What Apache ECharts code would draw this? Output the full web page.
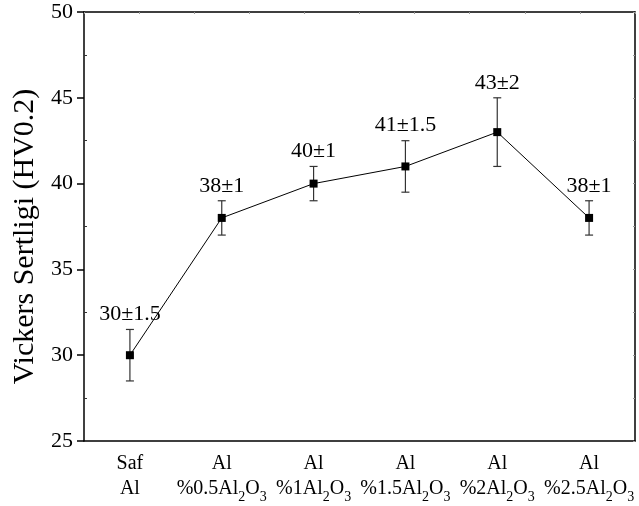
<!DOCTYPE html>
<html>
<head>
<meta charset="utf-8">
<script src="https://cdn.jsdelivr.net/npm/echarts@6/dist/echarts.min.js"></script>
<style>html,body{margin:0;padding:0;background:#fff}#c{width:639px;height:506px}</style>
</head>
<body>
<div id="c"></div>
<script>
var labelLine1 = ['Saf', 'Al', 'Al', 'Al', 'Al', 'Al'];
var labelPct = [null, '0.5', '1', '1.5', '2', '2.5'];
var hardness = [30, 38, 40, 41, 43, 38];
var errors = [1.5, 1, 1, 1.5, 2, 1];
var yMinorTicks = [27.5, 32.5, 37.5, 42.5, 47.5];

var FONT = '"Liberation Serif", "Times New Roman", serif';
var categories = labelLine1.map(function (l, i) { return String(i); });

function catFormatter(v, i) {
  var idx = Number(v);
  if (labelPct[idx] === null) return '{t|' + labelLine1[idx] + '}\n{t|Al}';
  return '{t|' + labelLine1[idx] + '}\n{t|%' + labelPct[idx] + 'Al}{s|2}{t|O}{s|3}';
}

var chart = echarts.init(document.getElementById('c'), null, {renderer: 'canvas'});
var grid = {left: 84, right: 4, top: 12, bottom: 65, containLabel: false};

chart.setOption({
  animation: false,
  backgroundColor: '#fff',
  grid: grid,
  xAxis: [
    {
      type: 'category', data: categories, position: 'bottom', boundaryGap: true,
      axisLine: {lineStyle: {color: '#000', width: 1.5}},
      axisTick: {alignWithLabel: true, inside: false, length: 6, lineStyle: {color: '#000', width: 1.5}},
      axisLabel: {
        formatter: catFormatter, margin: 13, interval: 0,
        rich: {
          t: {fontFamily: FONT, fontSize: 20, color: '#000', lineHeight: 25, verticalAlign: 'top'},
          s: {fontFamily: FONT, fontSize: 14, color: '#000', lineHeight: 14, padding: [17, 0, 0, 0], verticalAlign: 'bottom'}
        }
      },
      splitLine: {show: false}
    },
    {
      type: 'category', data: categories, position: 'bottom', boundaryGap: true,
      axisLine: {show: false},
      axisTick: {inside: true, length: 3, lineStyle: {color: '#555', width: 1}},
      axisLabel: {show: false}, splitLine: {show: false}
    },
    {
      type: 'value', min: 0, max: 10, interval: 1, position: 'top',
      axisLine: {show: true, onZero: false, lineStyle: {color: '#000', width: 1.5}},
      axisTick: {show: true, inside: true, length: 2, lineStyle: {color: '#999', width: 1}},
      axisLabel: {show: false}, splitLine: {show: false}
    }
  ],
  yAxis: [
    {
      type: 'value', min: 25, max: 50, interval: 5, position: 'left',
      name: 'Vickers Sertligi (HV0.2)', nameLocation: 'middle', nameGap: 41,
      nameTextStyle: {fontFamily: FONT, fontSize: 30, color: '#000', padding: [0, 20, 0, 0]},
      axisLine: {show: true, lineStyle: {color: '#000', width: 1.5}},
      axisTick: {show: true, inside: false, length: 7, lineStyle: {color: '#000', width: 1.5}},
      axisLabel: {fontFamily: FONT, fontSize: 22, color: '#000', margin: 11},
      splitLine: {show: false}
    },
    {
      type: 'value', min: 25, max: 50, interval: 2.5, position: 'right',
      axisLine: {show: true, onZero: false, lineStyle: {color: '#000', width: 1.5}},
      axisTick: {show: true, inside: true, length: 2, lineStyle: {color: '#999', width: 1}},
      axisLabel: {show: false}, splitLine: {show: false}
    },
    {
      type: 'value', min: 25, max: 50, interval: 2.5, position: 'left',
      axisLine: {show: false},
      axisTick: {show: true, inside: true, length: 3, customValues: yMinorTicks, lineStyle: {color: '#333', width: 1}},
      axisLabel: {show: false}, splitLine: {show: false}
    }
  ],
  series: [
    {
      type: 'line', xAxisIndex: 0, yAxisIndex: 0,
      data: hardness,
      symbol: 'rect', symbolSize: 8,
      itemStyle: {color: '#000'},
      lineStyle: {color: '#000', width: 1},
      z: 3
    },
    {
      type: 'custom', xAxisIndex: 0, yAxisIndex: 0,
      data: hardness.map(function (v, i) { return [i, v, errors[i]]; }),
      renderItem: function (params, api) {
        var x = api.value(0), v = api.value(1), e = api.value(2);
        var hi = api.coord([x, v + e]);
        var lo = api.coord([x, v - e]);
        var w = 4;
        var st = {stroke: '#333', lineWidth: 1.2};
        return {
          type: 'group',
          children: [
            {type: 'line', shape: {x1: hi[0], y1: hi[1], x2: lo[0], y2: lo[1]}, style: st},
            {type: 'line', shape: {x1: hi[0] - w, y1: hi[1], x2: hi[0] + w, y2: hi[1]}, style: st},
            {type: 'line', shape: {x1: lo[0] - w, y1: lo[1], x2: lo[0] + w, y2: lo[1]}, style: st},
            {type: 'text', x: hi[0], y: hi[1] - 4,
              style: {text: v + '±' + e, fontFamily: FONT, fontSize: 22, fill: '#000', align: 'center', verticalAlign: 'bottom'}}
          ]
        };
      },
      z: 2
    }
  ]
});
</script>
</body>
</html>
